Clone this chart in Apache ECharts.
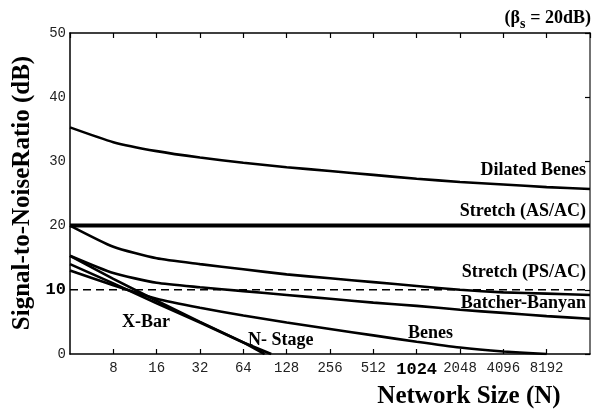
<!DOCTYPE html>
<html><head><meta charset="utf-8">
<script src="https://cdn.jsdelivr.net/npm/echarts@6.0.0/dist/echarts.min.js"></script>
<style>html,body{margin:0;padding:0;background:#fff}#c{width:592px;height:413px}</style>
</head><body><div id="c"></div>
<script>
const networkSize   = [4, 8, 16, 32, 64, 128, 256, 512, 1024, 2048, 4096, 8192, 16384];
const dilatedBenes  = [35.3, 33.0, 31.6, 30.6, 29.8, 29.1, 28.5, 27.9, 27.3, 26.8, 26.4, 26.0, 25.7];
const stretchASAC   = [20, 20, 20, 20, 20, 20, 20, 20, 20, 20, 20, 20, 20];
const stretchPSAC   = [20.0, 16.7, 14.9, 14.0, 13.2, 12.4, 11.8, 11.2, 10.6, 10.0, 9.6, 9.4, 9.2];
const batcherBanyan = [15.3, 12.6, 11.1, 10.4, 9.8, 9.2, 8.6, 8.0, 7.5, 6.9, 6.4, 5.9, 5.5];
const benesN        = [4, 8, 16, 32, 64, 128, 256, 512, 1024, 2048, 4096, 8192];
const benes         = [13.0, 10.7, 8.6, 7.2, 6.0, 4.9, 3.9, 2.9, 1.9, 1.0, 0.4, 0.0];
const xBarN         = [4, 8, 16, 32, 64, 90];
const xBar          = [15.3, 11.7, 8.3, 5.0, 1.8, 0.0];
const nStageN       = [4, 8, 16, 32, 64, 100];
const nStage        = [14.0, 11.0, 7.9, 4.9, 1.8, 0.0];
const thresholdN    = [4, 16384];
const threshold     = [10, 10];
const xTickLabels   = [8, 16, 32, 64, 128, 256, 512, 1024, 2048, 4096, 8192];
const yTickLabels   = [0, 10, 20, 30, 40, 50];

function pairs(xs, ys) { return xs.map((x, i) => [x, ys[i]]); }

const mono = 'Liberation Mono';

function lineSeries(name, data, width, extra) {
  return Object.assign({
    name: name, type: 'line', data: data, symbol: 'none', smooth: 0.2,
    lineStyle: { color: '#000', width: width }, silent: true, animation: false
  }, extra || {});
}

const xCommon = {
  type: 'log', logBase: 2, min: 4, max: 16384, interval: 1,
  splitLine: { show: false },
  axisLine: { show: true, onZero: false, lineStyle: { color: '#000', width: 1.5 } },
  axisTick: { show: true, inside: true, length: 5, lineStyle: { color: '#000', width: 1.2 } }
};

const option = {
  animation: false,
  backgroundColor: '#fff',
  grid: { left: 70, right: 2, top: 33, bottom: 59 },
  xAxis: [
    Object.assign({}, xCommon, {
      position: 'bottom',
      axisLabel: {
        margin: 7,
        showMinLabel: false, showMaxLabel: false,
        formatter: function (v) {
          const r = Math.round(v);
          if (xTickLabels.indexOf(r) < 0) return '';
          return r === 1024 ? '{b|1024}' : '{n|' + r + '}';
        },
        rich: {
          n: { fontFamily: mono, fontSize: 14, color: '#222' },
          b: { fontFamily: mono, fontSize: 17, fontWeight: 'bold', color: '#000' }
        }
      }
    }),
    Object.assign({}, xCommon, { position: 'top', axisLabel: { show: false } })
  ],
  yAxis: [
    {
      type: 'value', min: 0, max: 50, interval: 10, position: 'left',
      splitLine: { show: false },
      axisLine: { show: true, onZero: false, lineStyle: { color: '#000', width: 1.5 } },
      axisTick: { show: false },
      axisLabel: {
        margin: 4,
        formatter: function (v) {
          if (yTickLabels.indexOf(v) < 0) return '';
          return v === 10 ? '{b|10}' : '{n|' + v + '}';
        },
        rich: {
          n: { fontFamily: mono, fontSize: 14, color: '#222' },
          b: { fontFamily: mono, fontSize: 17, fontWeight: 'bold', color: '#000' }
        }
      }
    },
    {
      type: 'value', min: 0, max: 50, interval: 10, position: 'right',
      splitLine: { show: false },
      axisLine: { show: true, onZero: false, lineStyle: { color: '#444', width: 1.5 } },
      axisTick: { show: true, inside: true, length: 5, lineStyle: { color: '#000', width: 1.2 } },
      axisLabel: { show: false }
    }
  ],
  series: [
    lineSeries('Dilated Benes', pairs(networkSize, dilatedBenes), 2.6),
    lineSeries('Stretch (AS/AC)', pairs(networkSize, stretchASAC), 4, { smooth: false }),
    lineSeries('Stretch (PS/AC)', pairs(networkSize, stretchPSAC), 2.6),
    lineSeries('Batcher-Banyan', pairs(networkSize, batcherBanyan), 2.6),
    lineSeries('Benes', pairs(benesN, benes), 2.6),
    lineSeries('X-Bar', pairs(xBarN, xBar), 2.6, { smooth: false }),
    lineSeries('N- Stage', pairs(nStageN, nStage), 2.6, { smooth: false }),
    lineSeries('threshold', pairs(thresholdN, threshold), 1.5, {
      smooth: false, lineStyle: { color: '#000', width: 1.5, type: [8, 5] }
    })
  ],
  graphic: [
    { type: 'text', x: 23, y: 193, rotation: Math.PI / 2,
      style: { text: 'Signal-to-NoiseRatio (dB)', font: 'bold 25px "Liberation Serif"', fill: '#000', align: 'center', verticalAlign: 'middle' } },
    { type: 'text', x: 469, y: 397,
      style: { text: 'Network Size (N)', font: 'bold 25px "Liberation Serif"', fill: '#000', align: 'center', verticalAlign: 'middle' } },
    { type: 'text', x: 591, y: 18,
      style: { text: '= 20dB)', font: 'bold 18px "Liberation Serif"', fill: '#000', align: 'right', verticalAlign: 'middle' } },
    { type: 'text', x: 520, y: 24,
      style: { text: 's', font: 'bold 14px "Liberation Serif"', fill: '#000', align: 'left', verticalAlign: 'middle' } },
    { type: 'text', x: 520, y: 18,
      style: { text: '(β', font: 'bold 18px "Liberation Serif"', fill: '#000', align: 'right', verticalAlign: 'middle' } },
    { type: 'text', x: 586, y: 170,
      style: { text: 'Dilated Benes', font: 'bold 18px "Liberation Serif"', fill: '#000', align: 'right', verticalAlign: 'middle' } },
    { type: 'text', x: 586, y: 211,
      style: { text: 'Stretch (AS/AC)', font: 'bold 18px "Liberation Serif"', fill: '#000', align: 'right', verticalAlign: 'middle' } },
    { type: 'text', x: 586, y: 272,
      style: { text: 'Stretch (PS/AC)', font: 'bold 18px "Liberation Serif"', fill: '#000', align: 'right', verticalAlign: 'middle' } },
    { type: 'text', x: 586, y: 303,
      style: { text: 'Batcher-Banyan', font: 'bold 18px "Liberation Serif"', fill: '#000', align: 'right', verticalAlign: 'middle' } },
    { type: 'text', x: 408, y: 333,
      style: { text: 'Benes', font: 'bold 18px "Liberation Serif"', fill: '#000', align: 'left', verticalAlign: 'middle' } },
    { type: 'text', x: 248, y: 340,
      style: { text: 'N- Stage', font: 'bold 18px "Liberation Serif"', fill: '#000', align: 'left', verticalAlign: 'middle' } },
    { type: 'text', x: 122, y: 322,
      style: { text: 'X-Bar', font: 'bold 18px "Liberation Serif"', fill: '#000', align: 'left', verticalAlign: 'middle' } }
  ]
};

const chart = echarts.init(document.getElementById('c'), null, { renderer: 'canvas' });
chart.setOption(option);
</script>
</body></html>
